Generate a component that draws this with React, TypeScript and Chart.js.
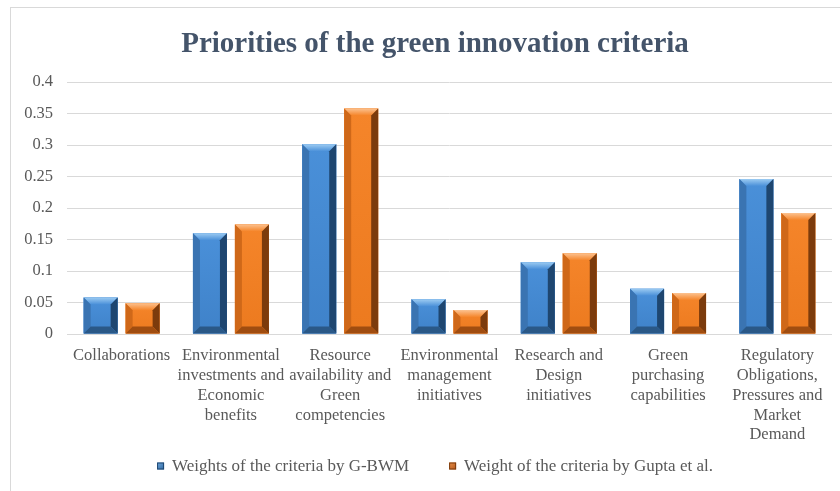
import React, { useEffect, useRef } from "react";
import { Chart, registerables } from "chart.js";

Chart.register(...registerables);

const categories: string[][] = [
  ["Collaborations"],
  ["Environmental", "investments and", "Economic", "benefits"],
  ["Resource", "availability and", "Green", "competencies"],
  ["Environmental", "management", "initiatives"],
  ["Research and", "Design", "initiatives"],
  ["Green", "purchasing", "capabilities"],
  ["Regulatory", "Obligations,", "Pressures and", "Market", "Demand"],
];

const gbwmWeights = [0.058, 0.16, 0.301, 0.055, 0.114, 0.072, 0.246];
const guptaWeights = [0.049, 0.174, 0.358, 0.038, 0.128, 0.065, 0.192];

const seriesNames = [
  "Weights of the criteria by G-BWM",
  "Weight of the criteria by Gupta et al.",
];

const yMin = 0;
const yMax = 0.4;
const yStep = 0.05;

const titleText = "Priorities of the green innovation criteria";

const FONT = "'Liberation Serif', 'Times New Roman', serif";
const TEXT_COLOR = "#595959";

const palettes = [
  { face: "#4A90D9", faceDark: "#3F82C9", top: "#9CCBF2", left: "#3A74B2", right: "#1E4670", bottom: "#2A5887", legend: "#2F69A3", legendLight: "#6FA6DA" },
  { face: "#F5852A", faceDark: "#EC7A1F", top: "#FCC290", left: "#CF6819", right: "#7C3B0C", bottom: "#A04D10", legend: "#B3561A", legendLight: "#E8904A" },
];

function poly(ctx: CanvasRenderingContext2D, pts: number[][], fill: string | CanvasGradient) {
  ctx.beginPath();
  ctx.moveTo(pts[0][0], pts[0][1]);
  for (let i = 1; i < pts.length; i++) ctx.lineTo(pts[i][0], pts[i][1]);
  ctx.closePath();
  ctx.fillStyle = fill;
  ctx.fill();
}

const bevelPlugin = {
  id: "bevel",
  afterDatasetsDraw(chart: any) {
    const ctx: CanvasRenderingContext2D = chart.ctx;
    ctx.save();
    chart.data.datasets.forEach((_ds: any, i: number) => {
      const meta = chart.getDatasetMeta(i);
      const pal = palettes[i];
      meta.data.forEach((bar: any) => {
        const { x, y, base, width } = bar.getProps(["x", "y", "base", "width"], true);
        const l = x - width / 2;
        const r = x + width / 2;
        const t = Math.min(y, base);
        const b = Math.max(y, base);
        const h = b - t;
        const s = Math.min(7, width / 4, h / 2);
        const fg = ctx.createLinearGradient(0, t, 0, b);
        fg.addColorStop(0, pal.face);
        fg.addColorStop(1, pal.faceDark);
        poly(ctx, [[l, t], [r, t], [r, b], [l, b]], fg);
        const tg = ctx.createLinearGradient(0, t, 0, t + s);
        tg.addColorStop(0, pal.top);
        tg.addColorStop(1, pal.face);
        poly(ctx, [[l, t], [r, t], [r - s, t + s], [l + s, t + s]], tg);
        poly(ctx, [[l, t], [l + s, t + s], [l + s, b - s], [l, b]], pal.left);
        poly(ctx, [[r, t], [r, b], [r - s, b - s], [r - s, t + s]], pal.right);
        poly(ctx, [[l, b], [l + s, b - s], [r - s, b - s], [r, b]], pal.bottom);
      });
    });
    ctx.restore();
  },
};

// Title and legend centred on the (wider) original chart frame
const FRAME_CENTER_X = 435;

const titlePlugin = {
  id: "frameTitle",
  afterDraw(chart: any) {
    const ctx: CanvasRenderingContext2D = chart.ctx;
    ctx.save();
    ctx.font = `bold 29px ${FONT}`;
    ctx.fillStyle = "#44546A";
    ctx.textAlign = "center";
    ctx.textBaseline = "alphabetic";
    ctx.fillText(titleText, FRAME_CENTER_X, 52);
    ctx.restore();
  },
};

const legendPlugin = {
  id: "frameLegend",
  afterDraw(chart: any) {
    const ctx: CanvasRenderingContext2D = chart.ctx;
    ctx.save();
    ctx.font = `17px ${FONT}`;
    const box = 7;
    const boxGap = 8;
    const itemGap = 40;
    const names = chart.data.datasets.map((d: any) => d.label as string);
    const widths = names.map((n: string) => box + boxGap + ctx.measureText(n).width);
    const total = widths.reduce((a: number, b: number) => a + b, 0) + itemGap * (names.length - 1);
    let x = FRAME_CENTER_X - total / 2;
    const yc = 466;
    names.forEach((n: string, i: number) => {
      const pal = palettes[i];
      const g = ctx.createLinearGradient(x, yc - box / 2, x + box, yc + box / 2);
      g.addColorStop(0, pal.legendLight);
      g.addColorStop(1, pal.legend);
      ctx.fillStyle = g;
      ctx.fillRect(x, yc - box / 2, box, box);
      ctx.strokeStyle = pal.right;
      ctx.lineWidth = 1;
      ctx.strokeRect(x + 0.5, yc - box / 2 + 0.5, box - 1, box - 1);
      ctx.fillStyle = TEXT_COLOR;
      ctx.textAlign = "left";
      ctx.textBaseline = "middle";
      ctx.fillText(n, x + box + boxGap, yc + 1);
      x += widths[i] + itemGap;
    });
    ctx.restore();
  },
};

export default function App() {
  const canvasRef = useRef<HTMLCanvasElement | null>(null);

  useEffect(() => {
    const canvas = canvasRef.current;
    if (!canvas) return;
    const chart = new Chart(canvas, {
      type: "bar",
      data: {
        labels: categories,
        datasets: [
          {
            label: seriesNames[0],
            data: gbwmWeights,
            backgroundColor: palettes[0].face,
            categoryPercentage: 0.768,
            barPercentage: 0.81,
          },
          {
            label: seriesNames[1],
            data: guptaWeights,
            backgroundColor: palettes[1].face,
            categoryPercentage: 0.768,
            barPercentage: 0.81,
          },
        ],
      },
      options: {
        responsive: false,
        animation: false,
        layout: { padding: { left: 0, right: 8, top: 82, bottom: 0 } },
        plugins: {
          title: { display: false },
          legend: { display: false },
          tooltip: { enabled: false },
        },
        scales: {
          x: {
            grid: { display: false },
            border: { display: false },
            ticks: {
              color: TEXT_COLOR,
              font: { family: FONT, size: 16.5, lineHeight: 1.2 },
              maxRotation: 0,
              autoSkip: false,
              padding: 4,
            },
            afterFit: (scale: any) => {
              scale.height = 157;
            },
          },
          y: {
            min: yMin,
            max: yMax,
            grid: { color: "#D9D9D9", drawTicks: false },
            border: { display: false },
            ticks: {
              stepSize: yStep,
              color: TEXT_COLOR,
              font: { family: FONT, size: 16.5 },
              padding: 14,
              callback: (v: any) => String(Number(Number(v).toFixed(2))),
            },
            afterFit: (scale: any) => {
              scale.width = 67;
            },
          },
        },
      },
      plugins: [bevelPlugin, titlePlugin, legendPlugin],
    });
    return () => chart.destroy();
  }, []);

  return (
    <div style={{ position: "fixed", left: 0, top: 0, width: 840, height: 491, background: "#fff" }}>
      <div
        style={{
          position: "absolute",
          left: 10,
          top: 7,
          width: 840,
          height: 500,
          borderLeft: "1px solid #D9D9D9",
          borderTop: "1px solid #D9D9D9",
        }}
      />
      <canvas ref={canvasRef} width={840} height={491} style={{ position: "absolute", left: 0, top: 0 }} />
    </div>
  );
}
